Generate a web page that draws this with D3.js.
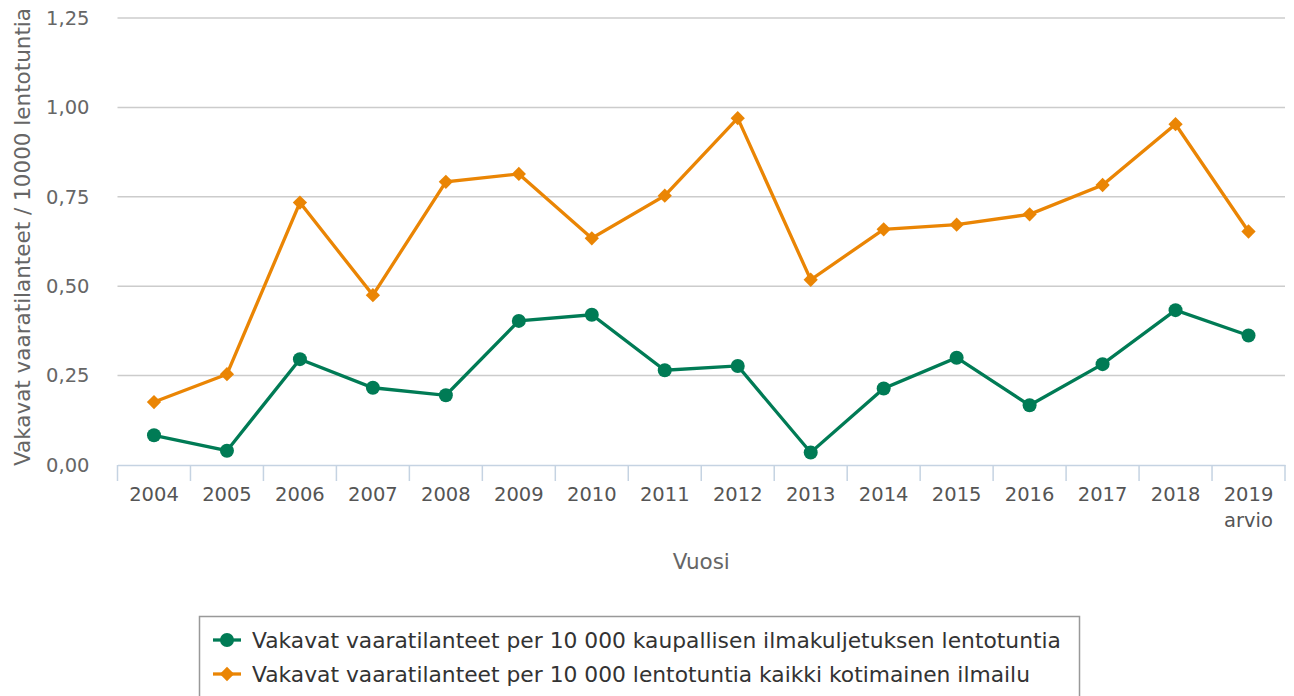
<!DOCTYPE html>
<html>
<head>
<meta charset="utf-8">
<script src="https://cdn.jsdelivr.net/npm/d3@7"></script>
<style>
  body { margin: 0; background: #fff; }
  svg { display: block; font-family: "DejaVu Sans", Verdana, sans-serif; }
</style>
</head>
<body>
<div id="chart"></div>
<script>
// data
var years = ["2004","2005","2006","2007","2008","2009","2010","2011","2012","2013","2014","2015","2016","2017","2018","2019"]
var yearNotes = {"2019": "arvio"}
var commercial = [0.083,0.040,0.296,0.216,0.195,0.403,0.420,0.265,0.277,0.035,0.214,0.300,0.167,0.282,0.433,0.362]
var allDomestic = [0.176,0.254,0.734,0.475,0.792,0.814,0.634,0.753,0.970,0.518,0.659,0.672,0.701,0.783,0.953,0.653]
var yTicks = [0, 0.25, 0.5, 0.75, 1.0, 1.25]
var seriesNames = [
    "Vakavat vaaratilanteet per 10 000 kaupallisen ilmakuljetuksen lentotuntia",
    "Vakavat vaaratilanteet per 10 000 lentotuntia kaikki kotimainen ilmailu"
]

var width = 1294, height = 696
var margin = {top: 18, right: 9, bottom: 231, left: 117.5}
var w = width - margin.left - margin.right
var h = height - margin.top - margin.bottom

var green = "#007b55", orange = "#ea8504"

var svg = d3.select("#chart").append("svg")
    .attr("width", width)
    .attr("height", height)

var plot = svg.append("g")
    .attr("transform", `translate(${margin.left},${margin.top})`)

var xScale = d3.scaleBand().domain(years).range([0, w])
var yScale = d3.scaleLinear().domain([0, 1.25]).range([h, 0])
var fmt = d => d3.format(".2f")(d).replace(".", ",")

// grid
plot.append("g").selectAll("line")
    .data(yTicks.slice(1))
    .join("line")
    .attr("x1", 0).attr("x2", w)
    .attr("y1", d => yScale(d)).attr("y2", d => yScale(d))
    .attr("stroke", "#cccccc")
    .attr("stroke-width", 1.5)

// y axis labels
plot.append("g").selectAll("text")
    .data(yTicks)
    .join("text")
    .attr("x", -28)
    .attr("y", d => yScale(d))
    .attr("dy", "0.35em")
    .attr("text-anchor", "end")
    .attr("fill", "#666")
    .style("font-size", "19.5px")
    .text(fmt)

// x axis
var xAxis = d3.axisBottom(xScale).tickSize(0).tickFormat("")
var xg = plot.append("g")
    .attr("transform", `translate(0,${h})`)
    .call(xAxis)
xg.select(".domain").attr("stroke", "#c5d3e2").attr("stroke-width", 1.5)
var bounds = years.map(d => xScale(d)).concat([w])
xg.selectAll(".bound").data(bounds).join("line")
    .attr("class", "bound")
    .attr("x1", d => d).attr("x2", d => d)
    .attr("y1", 0).attr("y2", 16)
    .attr("stroke", "#c5d3e2")
    .attr("stroke-width", 1.5)

var xl = plot.append("g").selectAll("text")
    .data(years)
    .join("text")
    .attr("x", d => xScale(d) + xScale.bandwidth()/2)
    .attr("y", h + 36)
    .attr("text-anchor", "middle")
    .attr("fill", "#555")
    .style("font-size", "19.5px")
xl.append("tspan").text(d => d)
xl.filter(d => yearNotes[d]).append("tspan")
    .attr("x", d => xScale(d) + xScale.bandwidth()/2)
    .attr("dy", "1.35em")
    .text(d => yearNotes[d])

// axis titles
plot.append("text")
    .attr("x", w/2)
    .attr("y", h + 104)
    .attr("text-anchor", "middle")
    .attr("fill", "#666")
    .style("font-size", "21.5px")
    .text("Vuosi")

plot.append("text")
    .attr("transform", "rotate(-90)")
    .attr("x", -219)
    .attr("y", -margin.left + 30)
    .attr("text-anchor", "middle")
    .attr("fill", "#666")
    .style("font-size", "21.5px")
    .text("Vakavat vaaratilanteet / 10000 lentotuntia")

// lines
var line = d3.line()
    .x((d, i) => xScale(years[i]) + xScale.bandwidth()/2)
    .y(d => yScale(d))

var diamond = d3.symbol().type(d3.symbolDiamond2).size(130)

function drawSeries(values, color, shape){
    plot.append("path")
        .datum(values)
        .attr("fill", "none")
        .attr("stroke", color)
        .attr("stroke-width", 3.3)
        .attr("d", line)
    var pts = plot.append("g").selectAll("g")
        .data(values)
        .join("g")
        .attr("transform", (d, i) => `translate(${xScale(years[i]) + xScale.bandwidth()/2},${yScale(d)})`)
    if (shape == "circle"){
        pts.append("circle").attr("r", 7).attr("fill", color)
    } else {
        pts.append("path").attr("d", diamond).attr("fill", color)
    }
}
drawSeries(allDomestic, orange, "diamond")
drawSeries(commercial, green, "circle")

// legend
var legend = svg.append("g").attr("transform", "translate(199,616)")
legend.append("rect")
    .attr("x", 0.5).attr("y", 0.5)
    .attr("width", 880).attr("height", 100)
    .attr("fill", "#fff")
    .attr("stroke", "#999")
    .attr("stroke-width", 1.5)
var items = legend.selectAll(".item")
    .data(seriesNames)
    .join("g")
    .attr("class", "item")
    .attr("transform", (d, i) => `translate(14,${24 + i*34})`)
items.append("line")
    .attr("x1", 0).attr("x2", 28)
    .attr("stroke", (d, i) => i == 0 ? green : orange)
    .attr("stroke-width", 3.3)
items.each(function(d, i){
    var g = d3.select(this)
    if (i == 0) g.append("circle").attr("cx", 14).attr("r", 7).attr("fill", green)
    else g.append("path").attr("transform", "translate(14,0)").attr("d", diamond).attr("fill", orange)
})
items.append("text")
    .attr("x", 39)
    .attr("dy", "0.35em")
    .attr("fill", "#333")
    .style("font-size", "21.8px")
    .text(d => d)
</script>
</body>
</html>
